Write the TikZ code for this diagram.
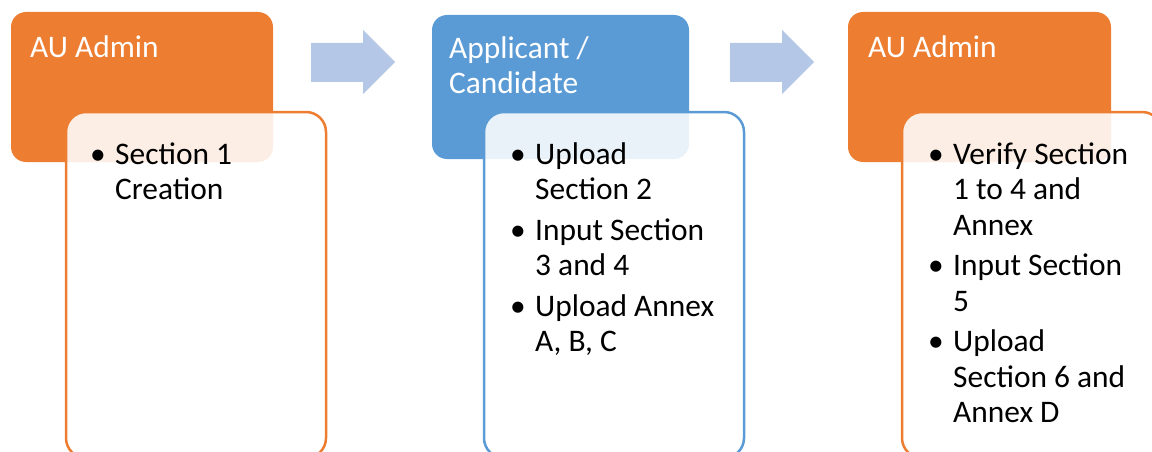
\documentclass[tikz,border=0pt]{standalone}
\usepackage{fontspec}
\setmainfont{Carlito}
\definecolor{hdrorange}{HTML}{ED7D31}
\definecolor{hdrblue}{HTML}{5B9BD5}
\definecolor{arrowblue}{HTML}{B4C7E7}
\tikzset{
  hdrbox/.style={draw=none, rounded corners=15pt, inner sep=0pt, outer sep=0pt, anchor=north west},
  contentbox/.style={line width=2.5pt, rounded corners=20pt, fill=white, fill opacity=0.87, text opacity=1, inner sep=0pt, outer sep=0pt, anchor=north west, minimum width=260pt, minimum height=346pt},
  hdrtxt/.style={anchor=base west, inner sep=0pt, text=white, font=\fontsize{31.4}{36}\selectfont},
  itemtxt/.style={anchor=base west, inner sep=0pt, text=black, font=\fontsize{31.4}{36}\selectfont},
  flowarrow/.style={fill=arrowblue, draw=none}
}
\newcommand\bitem[4]{%
  \node[itemtxt] (#1b) at (#2-25,#3) {\textbullet};
  \foreach \t [count=\i] in {#4} {\node[itemtxt] (#1-\i) at (#2,#3+\i*35.5-35.5) {\t};}
}
\begin{document}
\begin{tikzpicture}[x=1pt,y=-1pt]
\useasboundingbox (0,0) rectangle (1152,452);
% headers
\node[hdrbox, fill=hdrorange, minimum width=262pt, minimum height=150pt] (h1) at (11,12) {};
\node[hdrbox, fill=hdrblue, minimum width=257pt, minimum height=144pt] (h2) at (432,15) {};
\node[hdrbox, fill=hdrorange, minimum width=263pt, minimum height=150pt] (h3) at (848,12) {};
\node[hdrtxt] (t1) at (30,58) {AU Admin};
\node[hdrtxt] (t2a) at (449,59) {Applicant /};
\node[hdrtxt] (t2b) at (449,93) {Candidate};
\node[hdrtxt] (t3) at (868,58) {AU Admin};
% arrows
\fill[flowarrow] (311,43) -- (363,43) -- (363,30) -- (395,62) -- (363,94) -- (363,82) -- (311,82) -- cycle;
\fill[flowarrow] (730,43) -- (782,43) -- (782,30) -- (814,62) -- (782,94) -- (782,82) -- (730,82) -- cycle;
% content boxes
\node[contentbox, draw=hdrorange] (c1) at (66,112) {};
\node[contentbox, draw=hdrblue] (c2) at (484,112) {};
\node[contentbox, draw=hdrorange] (c3) at (902,112) {};
% items
\bitem{a1}{115}{164}{Section 1,Creation}
\bitem{b1}{535}{164}{Upload,Section 2}
\bitem{b2}{535}{240}{Input Section,3 and 4}
\bitem{b3}{535}{316}{Upload Annex,{A, B, C}}
\bitem{d1}{953}{164}{Verify Section,1 to 4 and,Annex}
\bitem{d2}{953}{275.5}{Input Section,5}
\bitem{d3}{953}{351.5}{Upload,Section 6 and,Annex D}
\end{tikzpicture}
\end{document}
